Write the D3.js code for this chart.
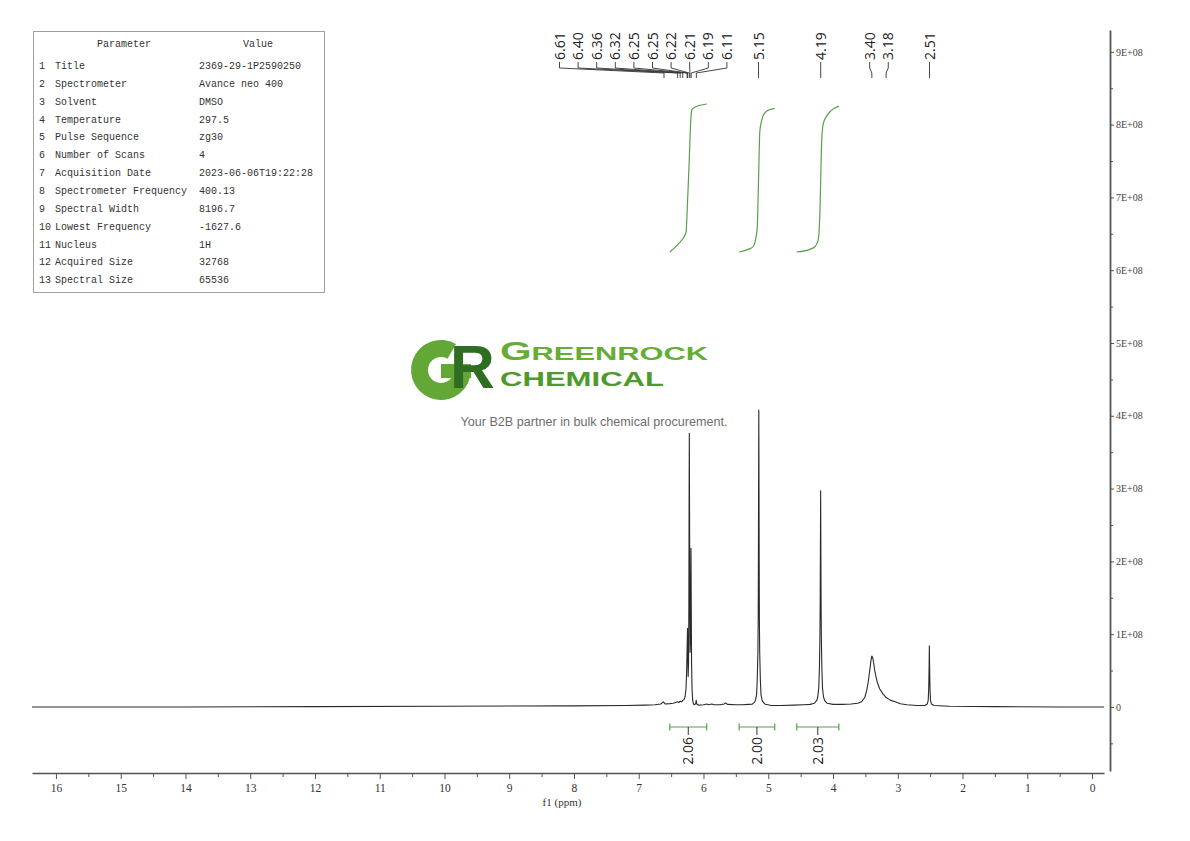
<!DOCTYPE html>
<html>
<head>
<meta charset="utf-8">
<script src="https://cdn.jsdelivr.net/npm/d3@7/dist/d3.min.js"></script>
<style>
  html, body { margin: 0; padding: 0; background: #fff; }
  svg { display: block; }
</style>
</head>
<body>
<svg id="chart" width="1190" height="841"></svg>
<script>
// ---------------- DATA ----------------
const paramNames = ["Title","Spectrometer","Solvent","Temperature","Pulse Sequence","Number of Scans",
  "Acquisition Date","Spectrometer Frequency","Spectral Width","Lowest Frequency","Nucleus",
  "Acquired Size","Spectral Size"];
const paramValues = ["2369-29-1P2590250","Avance neo 400","DMSO","297.5","zg30","4",
  "2023-06-06T19:22:28","400.13","8196.7","-1627.6","1H","32768","65536"];

// spectrum: [ppm, intensity in units of 1E+08]
const spectrum = [
  [16.37,0.0],[14,0.0],[12,0.005],[10,0.01],[8,0.015],[7.2,0.02],[6.9,0.025],[6.75,0.03],
  [6.66,0.04],[6.62,0.07],[6.59,0.04],[6.52,0.045],[6.47,0.05],[6.43,0.06],[6.40,0.07],
  [6.38,0.06],[6.36,0.08],[6.34,0.07],[6.32,0.09],[6.30,0.10],[6.285,0.14],[6.27,0.25],
  [6.26,0.5],[6.252,0.85],[6.247,1.08],[6.242,0.75],[6.237,0.42],[6.231,0.6],[6.226,1.4],
  [6.222,2.9],[6.219,3.76],[6.216,2.9],[6.212,1.6],[6.207,0.75],[6.200,0.95],[6.196,1.7],
  [6.193,2.18],[6.189,1.4],[6.184,0.6],[6.177,0.25],[6.168,0.1],[6.155,0.04],[6.135,0.03],
  [6.12,0.05],[6.112,0.09],[6.104,0.04],[6.08,0.025],[6.0,0.03],[5.95,0.04],[5.92,0.03],
  [5.87,0.04],[5.84,0.03],[5.75,0.03],[5.68,0.04],[5.66,0.055],[5.63,0.035],[5.5,0.03],
  [5.40,0.03],[5.30,0.035],[5.25,0.036],[5.21,0.07],[5.195,0.10],[5.18,0.17],[5.17,0.37],
  [5.16,0.75],[5.155,1.2],[5.152,2.0],[5.148,3.4],[5.146,4.08],[5.144,3.4],[5.140,2.0],
  [5.137,1.2],[5.132,0.75],[5.122,0.37],[5.112,0.17],[5.097,0.10],[5.082,0.07],[5.046,0.036],
  [4.95,0.02],[4.8,0.02],[4.6,0.025],[4.45,0.03],[4.35,0.035],[4.29,0.05],[4.25,0.09],
  [4.235,0.14],[4.22,0.26],[4.21,0.53],[4.203,0.9],[4.198,1.4],[4.194,2.3],[4.191,2.97],
  [4.188,2.3],[4.184,1.4],[4.179,0.9],[4.172,0.53],[4.162,0.26],[4.147,0.14],[4.13,0.09],
  [4.09,0.05],[4.0,0.035],[3.85,0.035],[3.72,0.04],[3.62,0.05],[3.56,0.07],[3.51,0.13],
  [3.48,0.22],[3.455,0.35],[3.43,0.52],[3.415,0.63],[3.40,0.70],[3.385,0.67],[3.37,0.59],
  [3.35,0.47],[3.32,0.35],[3.28,0.25],[3.23,0.18],[3.18,0.13],[3.11,0.09],[3.04,0.07],
  [2.96,0.045],[2.86,0.03],[2.70,0.02],[2.58,0.02],[2.545,0.04],[2.53,0.09],[2.522,0.25],
  [2.516,0.55],[2.512,0.84],[2.508,0.55],[2.502,0.25],[2.494,0.09],[2.48,0.04],[2.44,0.02],
  [2.2,0.01],[1.5,0.005],[0.5,0.0],[-0.185,0.0]
];

// peak labels (ppm)
const peakLabels = [6.61,6.40,6.36,6.32,6.25,6.25,6.22,6.21,6.19,6.11,5.15,4.19,3.40,3.18,2.51];
const peakGroups = [[0,1,2,3,4,5,6,7,8,9],[10],[11],[12,13],[14]];

// integrals
const integralRanges = [[6.52,5.95],[5.45,4.90],[4.56,3.91]];
const integralValues = [2.06,2.00,2.03];
const integralCurves = [
  [[6.52,0],[6.40,0.05],[6.27,0.13],[6.25,0.3],[6.22,0.62],[6.195,0.9],[6.18,0.96],[6.15,0.975],[5.95,1.0]],
  [[5.45,0],[5.30,0.02],[5.23,0.04],[5.19,0.1],[5.17,0.17],[5.15,0.5],[5.13,0.84],[5.10,0.92],[5.05,0.97],[4.98,0.99],[4.90,1.0]],
  [[4.56,0],[4.35,0.02],[4.28,0.036],[4.23,0.08],[4.20,0.3],[4.19,0.5],[4.175,0.76],[4.15,0.88],[4.10,0.93],[4.05,0.96],[3.98,0.985],[3.91,1.0]]
];

// axis ticks
const xTicks = d3.range(0, 17, 1);
const xMinorTicks = d3.range(0.5, 16.5, 1);
const yTicks = [0,1e8,2e8,3e8,4e8,5e8,6e8,7e8,8e8,9e8];
const yMinorTicks = [-0.5e8,0.5e8,1.5e8,2.5e8,3.5e8,4.5e8,5.5e8,6.5e8,7.5e8,8.5e8];

// ---------------- DRAW ----------------
const svg = d3.select("#chart");
const x = d3.scaleLinear().domain([16.37, -0.185]).range([32, 1104]);
const y = d3.scaleLinear().domain([-0.88e8, 9.3e8]).range([771, 30]);
const axisColor = "#555";

// --- Logo (watermark) ---
const logo = svg.append("g");
const gArc = d3.arc().innerRadius(13).outerRadius(30).startAngle(Math.PI/2).endAngle(Math.PI*2 + Math.PI/6);
logo.append("path").attr("d", gArc()).attr("transform", "translate(441,370)").attr("fill", "#63a737");
logo.append("rect").attr("x", 441).attr("y", 364).attr("width", 30).attr("height", 14).attr("fill", "#63a737");
logo.append("text").attr("x", 450).attr("y", 388).attr("font-family", "Liberation Sans, Arial, sans-serif")
  .attr("font-weight", "bold").attr("font-size", 62).attr("fill", "#2f6e22").text("R");
const t1 = logo.append("text").attr("x", 500).attr("y", 360).attr("font-family", "Liberation Sans, Arial, sans-serif")
  .attr("font-weight", "bold").attr("fill", "#65ad35").attr("textLength", 208).attr("lengthAdjust", "spacingAndGlyphs");
t1.append("tspan").attr("font-size", 25).text("G");
t1.append("tspan").attr("font-size", 19).text("REENROCK");
logo.append("text").attr("x", 500).attr("y", 386).attr("font-family", "Liberation Sans, Arial, sans-serif")
  .attr("font-weight", "bold").attr("font-size", 21).attr("fill", "#4f9a2c")
  .attr("textLength", 164).attr("lengthAdjust", "spacingAndGlyphs").text("CHEMICAL");
logo.append("text").attr("x", 594).attr("y", 426).attr("text-anchor", "middle")
  .attr("font-family", "Liberation Sans, Arial, sans-serif").attr("font-size", 12.6).attr("fill", "#6e6e6e")
  .text("Your B2B partner in bulk chemical procurement.");

// --- Parameter table ---
const tbl = svg.append("g").attr("font-family", "Liberation Mono, monospace").attr("font-size", 11.5).attr("fill", "#333");
tbl.append("rect").attr("x", 33.5).attr("y", 31.5).attr("width", 291).attr("height", 261)
  .attr("fill", "none").attr("stroke", "#a0a0a0").attr("stroke-width", 1);
const hScale = 0.87; // horizontal squeeze to mimic narrow monospaced glyphs
function tText(tx, ty, s, anchor) {
  return tbl.append("text").attr("transform", `translate(${tx},${ty}) scale(${hScale},1)`)
    .attr("text-anchor", anchor || "start").text(s);
}
tText(124, 47, "Parameter", "middle");
tText(258, 47, "Value", "middle");
paramNames.forEach((n, i) => {
  const ty = 69 + i * 17.85;
  tText(39, ty, String(i + 1));
  tText(55, ty, n);
  tText(199, ty, paramValues[i]);
});

// --- Integral curves ---
const integ = svg.append("g");
integralCurves.forEach((c, i) => {
  const yi = d3.scaleLinear().domain([0, 2.06]).range([252, 104]);
  const line = d3.line().x(d => x(d[0])).y(d => yi(d[1] * integralValues[i])).curve(d3.curveMonotoneX);
  integ.append("path").attr("d", line(c.slice().reverse())).attr("fill", "none")
    .attr("stroke", "#58a04a").attr("stroke-width", 1.2);
});

// --- Spectrum ---
const specLine = d3.line().x(d => x(d[0])).y(d => y(d[1] * 1e8));
svg.append("path").attr("d", specLine(spectrum)).attr("fill", "none")
  .attr("stroke", "#2a2a2a").attr("stroke-width", 1.1).attr("stroke-linejoin", "round");

// --- Peak labels ---
const pl = svg.append("g");
const spacing = 18.6;
peakGroups.forEach((g, gi) => {
  const pxs = g.map(i => x(peakLabels[i]));
  let start;
  if (g.length >= 10) start = 559.5;            // crowded multiplet labels pushed left
  else start = d3.mean(pxs) - (g.length - 1) * spacing / 2;
  g.forEach((idx, k) => {
    const lx = start + k * spacing;
    const px = x(peakLabels[idx]);
    pl.append("path").attr("d", `M${lx},62 L${lx},68 L${px},73 L${px},78`)
      .attr("fill", "none").attr("stroke", "#333").attr("stroke-width", 0.9);
    pl.append("text").attr("transform", `translate(${lx},60) rotate(-90)`).attr("dy", "0.36em")
      .attr("font-family", "Open Sans, Noto Sans, sans-serif").attr("font-size", 14).attr("fill", "#222")
      .text(peakLabels[idx].toFixed(2));
  });
});

// --- Integral bars ---
const ib = svg.append("g").attr("stroke", "#58a04a").attr("stroke-width", 1.2);
integralRanges.forEach((r, i) => {
  const x0 = x(r[0]), x1 = x(r[1]), xc = (x0 + x1) / 2;
  ib.append("line").attr("x1", x0).attr("x2", x1).attr("y1", 727).attr("y2", 727);
  ib.append("line").attr("x1", x0).attr("x2", x0).attr("y1", 723.5).attr("y2", 730.5);
  ib.append("line").attr("x1", x1).attr("x2", x1).attr("y1", 723.5).attr("y2", 730.5);
  svg.append("line").attr("x1", xc).attr("x2", xc).attr("y1", 727).attr("y2", 735)
    .attr("stroke", "#333").attr("stroke-width", 1);
  svg.append("text").attr("transform", `translate(${xc},737) rotate(-90)`).attr("dy", "0.36em")
    .attr("text-anchor", "end").attr("font-family", "Open Sans, Noto Sans, sans-serif")
    .attr("font-size", 14).attr("fill", "#222").text(integralValues[i].toFixed(2));
});

// --- Bottom axis ---
const xAxisG = svg.append("g").attr("transform", "translate(0,773)");
xAxisG.call(d3.axisBottom(x).tickValues(xTicks).tickFormat(d3.format("d")).tickSize(6).tickPadding(5).tickSizeOuter(0));
const xMinorG = svg.append("g").attr("transform", "translate(0,773)");
xMinorG.call(d3.axisBottom(x).tickValues(xMinorTicks).tickFormat("").tickSize(4).tickSizeOuter(0));
xMinorG.select(".domain").remove();
[xAxisG, xMinorG].forEach(g => {
  g.selectAll("path,line").attr("stroke", axisColor);
  g.selectAll("text").attr("font-family", "Liberation Serif, serif").attr("font-size", 11.5).attr("fill", "#333");
});
xAxisG.select(".domain").attr("stroke-width", 1.3);
svg.append("text").attr("x", 562).attr("y", 806).attr("text-anchor", "middle")
  .attr("font-family", "Liberation Serif, serif").attr("font-size", 11).attr("fill", "#333").text("f1 (ppm)");

// --- Right axis ---
const yAxisG = svg.append("g").attr("transform", "translate(1110,0)");
yAxisG.call(d3.axisRight(y).tickValues(yTicks)
  .tickFormat(v => v === 0 ? "0" : (v / 1e8) + "E+08").tickSize(4).tickPadding(2).tickSizeOuter(0));
const yMinorG = svg.append("g").attr("transform", "translate(1110,0)");
yMinorG.call(d3.axisRight(y).tickValues(yMinorTicks).tickFormat("").tickSize(3).tickSizeOuter(0));
yMinorG.select(".domain").remove();
[yAxisG, yMinorG].forEach(g => {
  g.selectAll("path,line").attr("stroke", axisColor);
  g.selectAll("text").attr("font-family", "Liberation Serif, serif").attr("font-size", 10).attr("fill", "#444");
});
yAxisG.select(".domain").attr("stroke-width", 1.8);
</script>
</body>
</html>
